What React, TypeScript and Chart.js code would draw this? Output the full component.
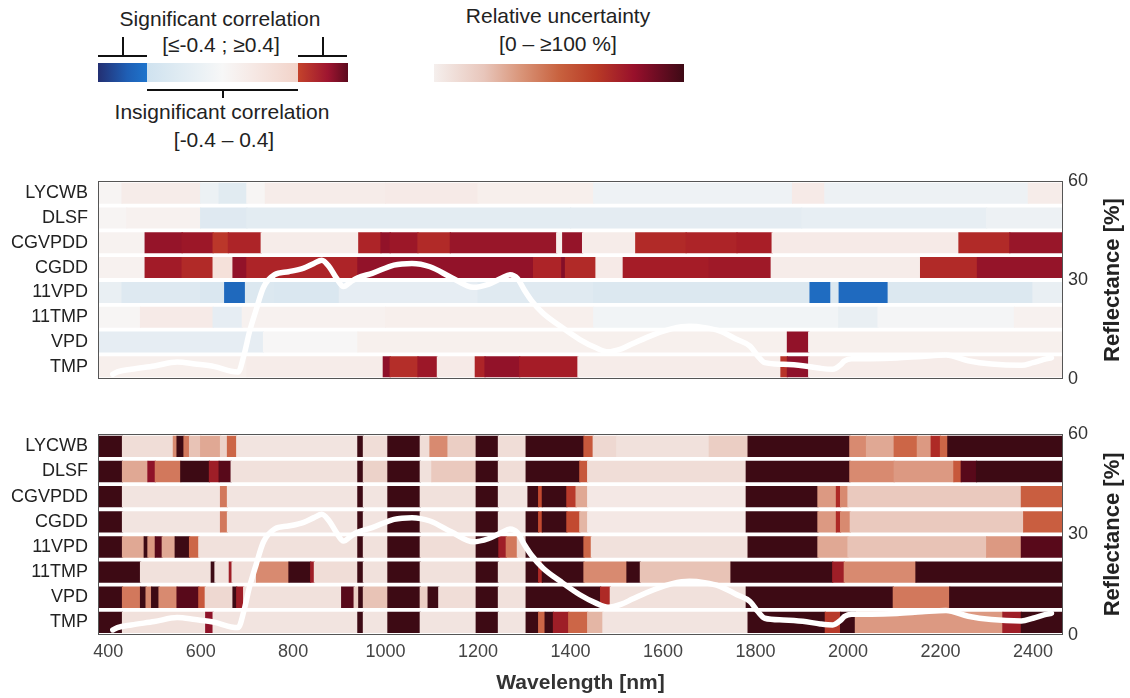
import React, { useEffect, useRef } from 'react';
import { Chart, registerables } from 'chart.js';

Chart.register(...registerables);

// ---------------- DATA ----------------
const ROWS = ['LYCWB', 'DLSF', 'CGVPDD', 'CGDD', '11VPD', '11TMP', 'VPD', 'TMP'];
const X_RANGE = [378, 2465];
const X_TICKS = [400, 600, 800, 1000, 1200, 1400, 1600, 1800, 2000, 2200, 2400];
const REFL_TICKS = [0, 30, 60];

// mean reflectance spectrum [%]
const REFL_NM = [410, 420, 450, 500, 549, 588, 630, 666, 681, 695, 705, 720, 736, 760, 790, 823, 845, 862, 878, 893, 909, 925, 940, 971, 1018, 1057, 1096, 1143, 1190, 1222, 1250, 1269, 1285, 1300, 1316, 1340, 1378, 1420, 1455, 1481, 1510, 1535, 1580, 1620, 1657, 1690, 1722, 1760, 1788, 1805, 1820, 1860, 1902, 1940, 1967, 1985, 1992, 2008, 2050, 2106, 2160, 2212, 2260, 2310, 2375, 2400, 2424, 2440];
const REFL_PCT = [1.5, 2.2, 3.0, 4.0, 5.2, 4.6, 3.8, 2.4, 2.2, 8, 14, 21, 27.8, 31.6, 32.5, 33.6, 35, 36, 34, 30.7, 28, 29.5, 30.7, 32, 34.5, 35, 34, 30.7, 27.8, 28.7, 30.5, 31.6, 30.5, 27, 23.7, 20, 16, 12, 9.5, 8.3, 9.2, 10.8, 13.5, 15.3, 16, 15.6, 14.6, 12, 10, 7, 5, 4.5, 4.1, 3.3, 3.0, 4.5, 5.5, 6.2, 6.2, 6.4, 6.9, 7.3, 5.6, 4.6, 4.2, 5, 6, 6.5];

// correlation segments: [from nm, to nm, r]
const CORR_LYCWB = [[378, 430, 0.03], [430, 600, 0.1], [600, 640, -0.08], [640, 700, -0.15], [700, 740, 0.02], [740, 1000, 0.1], [1000, 1200, 0.12], [1200, 1450, 0.08], [1450, 1880, -0.06], [1880, 1950, 0.12], [1950, 2390, -0.07], [2390, 2465, 0.1]];
const CORR_DLSF = [[378, 440, 0.03], [440, 600, 0.06], [600, 700, -0.17], [700, 1400, -0.14], [1400, 1900, -0.13], [1900, 2300, -0.11], [2300, 2465, -0.07]];
const CORR_CGVPDD = [[378, 480, 0.05], [480, 560, 0.7], [560, 627, 0.66], [627, 660, 0.46], [660, 731, 0.55], [731, 942, 0.1], [942, 990, 0.55], [990, 1010, 0.72], [1010, 1070, 0.66], [1070, 1140, 0.52], [1140, 1370, 0.68], [1370, 1383, 0.08], [1383, 1426, 0.7], [1426, 1541, 0.1], [1541, 1650, 0.52], [1650, 1760, 0.55], [1760, 1836, 0.58], [1836, 2240, 0.12], [2240, 2350, 0.52], [2350, 2465, 0.68]];
const CORR_CGDD = [[378, 480, 0.06], [480, 560, 0.62], [560, 627, 0.52], [627, 670, 0.22], [670, 700, 0.72], [700, 940, 0.55], [940, 1320, 0.72], [1320, 1381, 0.55], [1381, 1389, 0.8], [1389, 1455, 0.52], [1455, 1514, 0.12], [1514, 1700, 0.6], [1700, 1834, 0.64], [1834, 2157, 0.1], [2157, 2280, 0.52], [2280, 2465, 0.7]];
const CORR_11VPD = [[378, 430, -0.1], [430, 600, -0.18], [600, 652, -0.22], [652, 697, -0.48], [697, 760, -0.2], [760, 900, -0.22], [900, 1200, -0.12], [1200, 1450, -0.16], [1450, 1918, -0.2], [1918, 1963, -0.45], [1963, 1981, -0.2], [1981, 2087, -0.47], [2087, 2400, -0.2], [2400, 2465, -0.1]];
const CORR_11TMP = [[378, 470, 0.02], [470, 627, 0.12], [627, 690, -0.12], [690, 1000, 0.06], [1000, 1450, 0.08], [1450, 1980, -0.04], [1980, 2065, -0.1], [2065, 2360, -0.02], [2360, 2465, 0.06]];
const CORR_VPD = [[378, 736, -0.12], [736, 940, 0.01], [940, 1869, 0.07], [1869, 1915, 0.72], [1915, 2465, 0.07]];
const CORR_TMP = [[378, 700, 0.08], [700, 995, 0.1], [995, 1010, 0.75], [1010, 1070, 0.5], [1070, 1112, 0.66], [1112, 1194, 0.12], [1194, 1215, 0.55], [1215, 1290, 0.72], [1290, 1416, 0.6], [1416, 1855, 0.1], [1855, 1869, 0.48], [1869, 1915, 0.74], [1915, 2465, 0.1]];

// relative uncertainty segments: [from nm, to nm, %]
const UNC_LYCWB = [[378, 431, 100], [431, 541, 12], [541, 549, 45], [549, 564, 100], [564, 576, 50], [576, 600, 25], [600, 643, 35], [643, 658, 18], [658, 678, 55], [678, 940, 8], [940, 952, 100], [952, 1005, 12], [1005, 1075, 100], [1075, 1096, 12], [1096, 1135, 45], [1135, 1196, 20], [1196, 1244, 100], [1244, 1304, 12], [1304, 1429, 100], [1429, 1449, 60], [1449, 1500, 15], [1500, 1700, 10], [1700, 1784, 20], [1784, 2004, 100], [2004, 2040, 45], [2040, 2100, 35], [2100, 2150, 55], [2150, 2180, 40], [2180, 2200, 75], [2200, 2216, 55], [2216, 2465, 100]];
const UNC_DLSF = [[378, 431, 100], [431, 486, 35], [486, 502, 85], [502, 557, 50], [557, 619, 100], [619, 640, 80], [640, 666, 95], [666, 940, 10], [940, 952, 100], [952, 1005, 18], [1005, 1075, 100], [1075, 1100, 10], [1100, 1196, 22], [1196, 1244, 100], [1244, 1304, 12], [1304, 1420, 100], [1420, 1437, 60], [1437, 1780, 12], [1780, 2004, 100], [2004, 2100, 45], [2100, 2229, 40], [2229, 2245, 60], [2245, 2278, 95], [2278, 2465, 100]];
const UNC_CGVPDD = [[378, 431, 100], [431, 643, 8], [643, 658, 50], [658, 940, 8], [940, 952, 100], [952, 1005, 8], [1005, 1075, 100], [1075, 1196, 10], [1196, 1244, 100], [1244, 1308, 8], [1308, 1331, 100], [1331, 1339, 65], [1339, 1392, 100], [1392, 1412, 70], [1412, 1437, 35], [1437, 1780, 6], [1780, 1935, 100], [1935, 1975, 40], [1975, 1984, 75], [1984, 2000, 45], [2000, 2375, 22], [2375, 2465, 58]];
const UNC_CGDD = [[378, 431, 100], [431, 643, 8], [643, 658, 50], [658, 940, 8], [940, 952, 100], [952, 1005, 8], [1005, 1075, 100], [1075, 1196, 10], [1196, 1244, 100], [1244, 1304, 8], [1304, 1331, 100], [1331, 1339, 65], [1339, 1392, 100], [1392, 1420, 65], [1420, 1437, 30], [1437, 1780, 6], [1780, 1935, 100], [1935, 1975, 40], [1975, 1984, 75], [1984, 2005, 45], [2005, 2380, 22], [2380, 2465, 58]];
const UNC_11VPD = [[378, 431, 100], [431, 478, 35], [478, 486, 100], [486, 502, 40], [502, 517, 95], [517, 545, 35], [545, 576, 100], [576, 596, 55], [596, 940, 10], [940, 952, 100], [952, 1005, 10], [1005, 1075, 100], [1075, 1196, 12], [1196, 1245, 100], [1245, 1261, 80], [1261, 1285, 50], [1285, 1304, 15], [1304, 1429, 100], [1429, 1445, 55], [1445, 1784, 10], [1784, 1935, 100], [1935, 2000, 35], [2000, 2300, 25], [2300, 2375, 40], [2375, 2465, 95]];
const UNC_11TMP = [[378, 470, 100], [470, 623, 10], [623, 631, 100], [631, 662, 10], [662, 668, 80], [668, 721, 10], [721, 791, 45], [791, 838, 100], [838, 846, 80], [846, 940, 12], [940, 952, 100], [952, 1005, 10], [1005, 1075, 100], [1075, 1196, 10], [1196, 1244, 100], [1244, 1304, 10], [1304, 1331, 100], [1331, 1339, 75], [1339, 1429, 100], [1429, 1522, 45], [1522, 1551, 100], [1551, 1747, 25], [1747, 1967, 100], [1967, 1992, 80], [1992, 2147, 45], [2147, 2465, 100]];
const UNC_VPD = [[378, 431, 100], [431, 470, 50], [470, 482, 100], [482, 494, 45], [494, 510, 100], [510, 549, 45], [549, 596, 95], [596, 610, 60], [610, 670, 15], [670, 678, 100], [678, 693, 80], [693, 905, 10], [905, 932, 95], [932, 942, 20], [942, 952, 100], [952, 1005, 25], [1005, 1075, 100], [1075, 1092, 20], [1092, 1115, 100], [1115, 1196, 12], [1196, 1244, 100], [1244, 1304, 10], [1304, 1465, 100], [1465, 1486, 75], [1486, 1780, 10], [1780, 2098, 100], [2098, 2220, 50], [2220, 2465, 100]];
const UNC_TMP = [[378, 431, 100], [431, 611, 10], [611, 627, 85], [627, 940, 8], [940, 952, 100], [952, 1005, 8], [1005, 1075, 100], [1075, 1196, 8], [1196, 1244, 100], [1244, 1304, 8], [1304, 1331, 100], [1331, 1345, 55], [1345, 1363, 100], [1363, 1396, 80], [1396, 1437, 55], [1437, 1470, 30], [1470, 1784, 8], [1784, 1951, 100], [1951, 1984, 70], [1984, 2016, 100], [2016, 2335, 40], [2335, 2375, 80], [2375, 2465, 100]];

const CORR_ROWS = [CORR_LYCWB, CORR_DLSF, CORR_CGVPDD, CORR_CGDD, CORR_11VPD, CORR_11TMP, CORR_VPD, CORR_TMP];
const UNC_ROWS = [UNC_LYCWB, UNC_DLSF, UNC_CGVPDD, UNC_CGDD, UNC_11VPD, UNC_11TMP, UNC_VPD, UNC_TMP];

// ---------------- STYLE ----------------
const FONT = '"Liberation Sans", Arial, Helvetica, sans-serif';

const RED_SIG: [number, string][] = [[0, '#c4432b'], [0.3, '#a81e27'], [0.6, '#8c0f2a'], [1, '#5a0a1c']];
const BLUE_SIG: [number, string][] = [[0, '#1f72c8'], [0.5, '#1f4fa0'], [1, '#232f72']];
const INSIG: [number, string][] = [[0, '#c9ddec'], [0.3, '#e0eaf1'], [0.5, '#f7f7f7'], [0.7, '#f6e6e1'], [1, '#f2d0c5']];
const UNC_STOPS: [number, string][] = [[0, '#f8f5f4'], [8, '#f2e4e0'], [15, '#eed8d1'], [25, '#e8c3b6'], [35, '#e0a894'], [45, '#d88a70'], [55, '#cc6647'], [65, '#c24a30'], [75, '#ae2a26'], [85, '#8e1228'], [93, '#63091d'], [100, '#3d0a14']];

function hex(c: string) {
  return [parseInt(c.slice(1, 3), 16), parseInt(c.slice(3, 5), 16), parseInt(c.slice(5, 7), 16)];
}
function interp(stops: [number, string][], t: number) {
  if (t <= stops[0][0]) return stops[0][1];
  for (let i = 1; i < stops.length; i++) {
    if (t <= stops[i][0]) {
      const [t0, c0] = stops[i - 1];
      const [t1, c1] = stops[i];
      const f = (t - t0) / (t1 - t0);
      const a = hex(c0), b = hex(c1);
      const m = a.map((v, k) => Math.round(v + (b[k] - v) * f));
      return `rgb(${m[0]},${m[1]},${m[2]})`;
    }
  }
  return stops[stops.length - 1][1];
}
function corrColor(v: number) {
  if (v >= 0.4) return interp(RED_SIG, (v - 0.4) / 0.6);
  if (v <= -0.4) return interp(BLUE_SIG, (-v - 0.4) / 0.6);
  return interp(INSIG, (v + 0.4) / 0.8);
}
function uncColor(v: number) {
  return interp(UNC_STOPS, v);
}

const framePlugin = {
  id: 'frame',
  afterDatasetsDraw(chart: any) {
    const { ctx, chartArea: a } = chart;
    ctx.save();
    ctx.strokeStyle = '#555';
    ctx.lineWidth = 1;
    ctx.strokeRect(Math.round(a.left) + 0.5, Math.round(a.top) + 0.5, Math.round(a.right - a.left) - 1, Math.round(a.bottom - a.top) - 1);
    ctx.restore();
  },
  afterDraw(chart: any) {
    const { ctx, chartArea: a } = chart;
    ctx.save();
    ctx.translate(1113, (a.top + a.bottom) / 2);
    ctx.rotate(-Math.PI / 2);
    ctx.font = `bold 22px ${FONT}`;
    ctx.fillStyle = '#222';
    ctx.textAlign = 'center';
    ctx.textBaseline = 'middle';
    ctx.fillText('Reflectance [%]', 0, 0);
    ctx.restore();
  },
};

function makeConfig(segRows: number[][][], colorFn: (v: number) => string, showX: boolean, padTop: number, padBottom: number): any {
  const cells: any[] = [];
  const colors: string[] = [];
  segRows.forEach((segs, r) =>
    segs.forEach(([s, e, v]) => {
      cells.push({ x: [s, e], y: ROWS[r] });
      colors.push(colorFn(v));
    })
  );
  return {
    type: 'bar',
    data: {
      datasets: [
        {
          type: 'line',
          label: 'Reflectance',
          data: REFL_NM.map((x, i) => ({ x, y: REFL_PCT[i] })),
          xAxisID: 'x',
          yAxisID: 'yR',
          indexAxis: 'x',
          borderColor: '#ffffff',
          borderWidth: 5.5,
          pointRadius: 0,
          cubicInterpolationMode: 'monotone',
          borderCapStyle: 'round',
          borderJoinStyle: 'round',
          fill: false,
          order: 0,
        },
        {
          type: 'bar',
          label: 'cells',
          data: cells,
          backgroundColor: colors,
          xAxisID: 'x',
          yAxisID: 'y',
          indexAxis: 'y',
          grouped: false,
          barPercentage: 0.8,
          categoryPercentage: 1,
          borderWidth: 0,
          inflateAmount: 0.6,
          order: 1,
        },
      ],
    },
    options: {
      indexAxis: 'y',
      animation: false,
      responsive: false,
      maintainAspectRatio: false,
      events: [],
      layout: { padding: { top: padTop, bottom: padBottom, left: 0, right: 0 } },
      plugins: { legend: { display: false }, tooltip: { enabled: false }, title: { display: false } },
      scales: {
        x: {
          type: 'linear',
          axis: 'x',
          position: 'bottom',
          min: X_RANGE[0],
          max: X_RANGE[1],
          display: showX,
          grid: { display: false, drawTicks: false },
          border: { display: false },
          afterBuildTicks: (s: any) => {
            s.ticks = X_TICKS.map((v) => ({ value: v }));
          },
          ticks: { font: { family: FONT, size: 18 }, color: '#444', padding: 6, maxRotation: 0, autoSkip: false, callback: (v: any) => String(v) },
          title: { display: showX, text: 'Wavelength [nm]', font: { family: FONT, size: 21, weight: 'bold' }, color: '#333', padding: { top: 4, bottom: 2 } },
          afterFit: (s: any) => {
            if (showX) s.height = 63;
          },
        },
        y: {
          type: 'category',
          axis: 'y',
          position: 'left',
          labels: ROWS,
          offset: true,
          grid: { display: false, drawTicks: false },
          border: { display: false },
          ticks: { font: { family: FONT, size: 18 }, color: '#222', padding: 10, autoSkip: false },
          afterFit: (s: any) => {
            s.width = 98;
          },
        },
        yR: {
          type: 'linear',
          axis: 'y',
          position: 'right',
          min: 0,
          max: 60,
          offset: false,
          grid: { display: false, drawTicks: false },
          border: { display: false },
          afterBuildTicks: (s: any) => {
            s.ticks = REFL_TICKS.map((v) => ({ value: v }));
          },
          ticks: { font: { family: FONT, size: 18 }, color: '#333', padding: 5, callback: (v: any) => String(v) },
          afterFit: (s: any) => {
            s.width = 67;
          },
        },
      },
    },
    plugins: [framePlugin],
  };
}

function Panel(props: { rows: number[][][]; colorFn: (v: number) => string; showX: boolean; top: number; height: number; padTop: number; padBottom: number }) {
  const ref = useRef<HTMLCanvasElement | null>(null);
  useEffect(() => {
    if (!ref.current) return;
    const chart = new Chart(ref.current, makeConfig(props.rows, props.colorFn, props.showX, props.padTop, props.padBottom));
    return () => chart.destroy();
  }, []);
  return <canvas ref={ref} width={1130} height={props.height} style={{ position: 'absolute', left: 0, top: props.top, width: 1130, height: props.height }} />;
}

function Txt(props: { x: number; y: number; children: any; size?: number }) {
  const size = props.size || 21;
  return (
    <div style={{ position: 'absolute', left: props.x - 200, top: props.y - size * 0.6, width: 400, textAlign: 'center', fontSize: size, lineHeight: `${size * 1.2}px`, color: '#222', fontFamily: FONT, whiteSpace: 'nowrap' }}>
      {props.children}
    </div>
  );
}

function Line(props: { x: number; y: number; w: number; h: number }) {
  return <div style={{ position: 'absolute', left: props.x, top: props.y, width: props.w, height: props.h, background: '#111' }} />;
}

export default function App() {
  return (
    <div style={{ position: 'absolute', left: 0, top: 0, width: 1130, height: 698, background: '#fff', overflow: 'hidden', fontFamily: FONT }}>
      {/* correlation legend */}
      <Txt x={220} y={19}>Significant correlation</Txt>
      <Txt x={221} y={45}>[≤-0.4 ; ≥0.4]</Txt>
      <Line x={98} y={55} w={49} h={1.5} />
      <Line x={122} y={37} w={1.5} h={19} />
      <Line x={298} y={55} w={49} h={1.5} />
      <Line x={322} y={37} w={1.5} h={19} />
      <div style={{ position: 'absolute', left: 98, top: 63, width: 49, height: 19, background: 'linear-gradient(to right, #232f72, #1f5fb5 60%, #1e74cc)' }} />
      <div style={{ position: 'absolute', left: 147, top: 63, width: 151, height: 19, background: 'linear-gradient(to right, #cfe2ef, #eaf1f5 35%, #f7f7f7 50%, #f6e9e5 70%, #f2d3c9)' }} />
      <div style={{ position: 'absolute', left: 298, top: 63, width: 50, height: 19, background: 'linear-gradient(to right, #c4432b, #9e1530 60%, #5c0a1e)' }} />
      <Line x={147} y={89} w={151} h={1.5} />
      <Line x={222} y={89} w={1.5} h={9} />
      <Txt x={222} y={112}>Insignificant correlation</Txt>
      <Txt x={224} y={140}>[-0.4 – 0.4]</Txt>
      {/* uncertainty legend */}
      <Txt x={558} y={16}>Relative uncertainty</Txt>
      <Txt x={558} y={44}>[0 – ≥100 %]</Txt>
      <div style={{ position: 'absolute', left: 434, top: 64, width: 250, height: 18, background: 'linear-gradient(to right, #f5efed, #e8c6bb 20%, #d99478 35%, #c8623f 50%, #b83a26 65%, #98102b 80%, #6a0c22 90%, #3d0a15)' }} />
      <Panel rows={CORR_ROWS} colorFn={corrColor} showX={false} top={160} height={240} padTop={17} padBottom={18} />
      <Panel rows={UNC_ROWS} colorFn={uncColor} showX={true} top={413} height={285} padTop={17} padBottom={0} />
    </div>
  );
}
